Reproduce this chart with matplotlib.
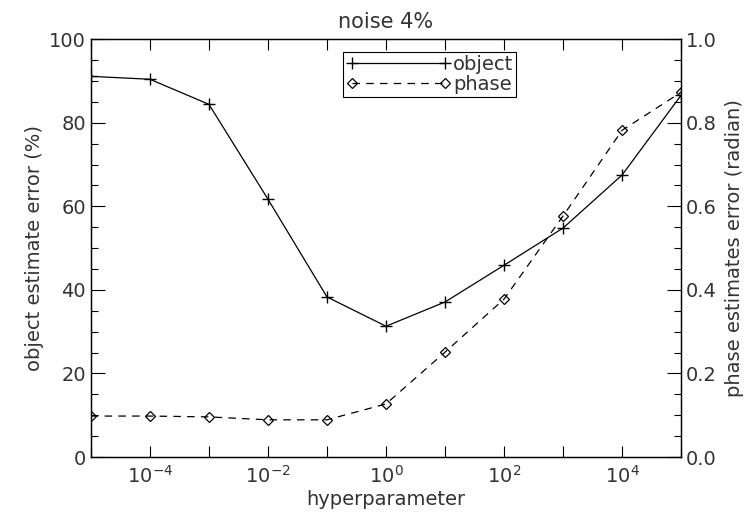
import numpy as np
import matplotlib.pyplot as plt
from matplotlib.ticker import FixedLocator, FuncFormatter

# data
hyper = [1e-5, 1e-4, 1e-3, 1e-2, 1e-1, 1e0, 1e1, 1e2, 1e3, 1e4, 1e5]
object_err = [91.1, 90.4, 84.4, 61.7, 38.3, 31.3, 37.1, 45.9, 54.8, 67.5, 86.6]
phase_err = [0.098, 0.098, 0.096, 0.089, 0.089, 0.127, 0.251, 0.378, 0.577, 0.782, 0.873]

plt.rcParams['font.family'] = 'DejaVu Sans'
plt.rcParams['font.size'] = 14
txt = '#333333'

fig = plt.figure(figsize=(7.51, 5.22), dpi=100)
ax = fig.add_axes([0.121, 0.1245, 0.786, 0.8005])
ax2 = ax.twinx()

l1, = ax.plot(hyper, object_err, color='black', lw=0.9, marker='+', ms=9, mew=1.0, label='object')
l2, = ax2.plot(hyper, phase_err, color='black', lw=0.9, ls=(0, (6, 5)), marker='D', ms=5.5,
               mfc='none', mew=0.9, label='phase')

ax.set_xscale('log')
ax.set_xlim(1e-5, 1e5)
ax.set_ylim(0, 100)
ax2.set_ylim(0, 1.0)

ax.xaxis.set_major_locator(FixedLocator([10.0**k for k in range(-5, 6)]))
ax.xaxis.set_minor_locator(FixedLocator([]))

def xfmt(v, pos):
    k = int(round(np.log10(v)))
    if k % 2 == 0 and -5 < k < 5:
        return r'$10^{%d}$' % k
    return ''

ax.xaxis.set_major_formatter(FuncFormatter(xfmt))
ax.set_yticks([0, 20, 40, 60, 80, 100])
ax.set_yticks(np.arange(0, 101, 5), minor=True)
ax2.set_yticks([0.0, 0.2, 0.4, 0.6, 0.8, 1.0])
ax2.set_yticklabels(['0.0', '0.2', '0.4', '0.6', '0.8', '1.0'])
ax2.set_yticks(np.arange(0, 1.01, 0.05), minor=True)

ax.tick_params(axis='x', which='both', direction='in', top=True, length=8, width=0.8,
               labelcolor=txt, labelsize=14, pad=6)
ax.tick_params(axis='y', which='major', direction='in', length=10, width=0.8, labelcolor=txt, labelsize=14)
ax.tick_params(axis='y', which='minor', direction='in', length=5, width=0.8)
ax2.tick_params(axis='y', which='major', direction='in', length=10, width=0.8, labelcolor=txt, labelsize=14)
ax2.tick_params(axis='y', which='minor', direction='in', length=5, width=0.8)

for a in (ax, ax2):
    for s in a.spines.values():
        s.set_linewidth(0.9)

ax.set_xlabel('hyperparameter', color=txt, labelpad=2)
ax.set_ylabel('object estimate error (%)', color=txt, labelpad=4)
ax2.set_ylabel('phase estimates error (radian)', color=txt, labelpad=6)
ax.set_title('noise 4%', color=txt, fontsize=15, pad=8)

leg = ax.legend([l1, l2], ['object', 'phase'], loc='upper left', bbox_to_anchor=(0.427, 0.969),
                borderaxespad=0, numpoints=2, handlelength=5.4, handletextpad=0.1, borderpad=0.15,
                labelspacing=0.05, fancybox=False, framealpha=1, edgecolor='black', fontsize=14)
leg.get_frame().set_linewidth(0.8)
for t in leg.get_texts():
    t.set_color(txt)

fig.savefig('out.png', dpi=100)
